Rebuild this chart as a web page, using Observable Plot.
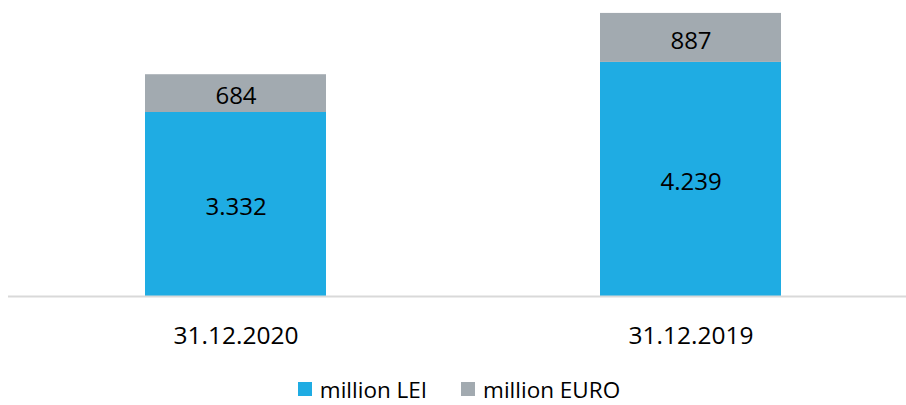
<!DOCTYPE html>
<html>
<head>
<meta charset="utf-8">
<script src="https://cdn.jsdelivr.net/npm/d3@7"></script>
<script src="https://cdn.jsdelivr.net/npm/@observablehq/plot@0.6"></script>
<style>
  html, body { margin: 0; background: #fff; font-family: "Open Sans", sans-serif; overflow: hidden; }
  #chart svg { display: block; }
  .legend { display: flex; justify-content: center; align-items: center; gap: 34px; height: 30px; margin-top: 14px; font-size: 22.5px; color: #000; margin-left: 12px; }
  .legend span.sw { display: inline-block; width: 14px; height: 14px; margin-right: 8px; }
  .legend .item { display: flex; align-items: center; }
</style>
</head>
<body>
<div id="chart"></div>
<div class="legend" id="legend"></div>
<script>
const dates = ["31.12.2020", "31.12.2019"];
const series = ["million LEI", "million EURO"];
const lei = [3332, 4239];
const euro = [684, 887];
const colors = ["#1FACE3", "#A2AAB0"];

const data = [];
dates.forEach((d, i) => {
  data.push({date: d, series: series[0], value: lei[i]});
  data.push({date: d, series: series[1], value: euro[i]});
});

const fmt = d3.formatLocale({decimal: ",", thousands: ".", grouping: [3], currency: ["", ""]}).format(",d");

const chart = Plot.plot({
  width: 906,
  height: 360,
  marginTop: 0,
  marginBottom: 64,
  marginLeft: 8,
  marginRight: 0,
  style: {fontFamily: "Open Sans, sans-serif", fontSize: "25px", color: "#000", background: "#fff"},
  x: {domain: dates, range: [8, 918], paddingInner: 0.6022, paddingOuter: 0.301, label: null},
  y: {domain: [0, 5360], axis: null},
  color: {domain: series, range: colors},
  marks: [
    Plot.barY(data, {x: "date", y: "value", fill: "series", order: series, inset: 0}),
    Plot.ruleY([0], {stroke: "#D9D9D9", strokeWidth: 2}),
    Plot.text(data, Plot.stackY({x: "date", y: "value", z: "series", order: series, text: d => fmt(d.value), fill: "#000", fontSize: 24, dy: 3})),
    Plot.axisX({tickSize: 0, tickPadding: 30, fontSize: 24.5, label: null})
  ]
});
document.getElementById("chart").appendChild(chart);

const legend = document.getElementById("legend");
series.forEach((s, i) => {
  const it = document.createElement("div");
  it.className = "item";
  it.innerHTML = `<span class="sw" style="background:${colors[i]}"></span><span>${s}</span>`;
  legend.appendChild(it);
});
</script>
</body>
</html>
